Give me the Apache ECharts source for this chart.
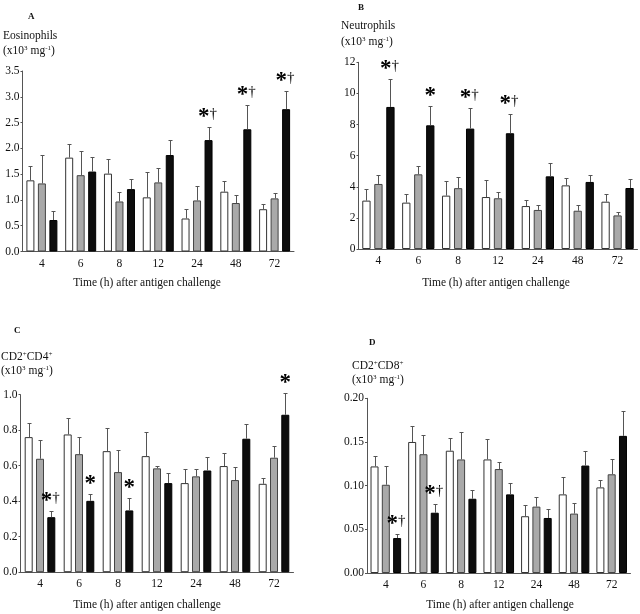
<!DOCTYPE html>
<html><head><meta charset="utf-8">
<script src="https://cdn.jsdelivr.net/npm/echarts@6/dist/echarts.min.js"></script>
<style>html,body{margin:0;padding:0;background:#fff}#c{width:640px;height:614px}</style>
</head><body><div id="c"></div>
<script>
const categories = ['4', '6', '8', '12', '24', '48', '72'];

// Panel A - Eosinophils
const eosOpen = [1.38, 1.82, 1.51, 1.05, 0.64, 1.16, 0.82];
const eosOpenUpper = [1.66, 2.08, 1.80, 1.54, 0.83, 1.36, 0.92];
const eosGrey = [1.32, 1.48, 0.97, 1.34, 0.99, 0.94, 1.03];
const eosGreyUpper = [1.88, 1.94, 1.16, 1.61, 1.27, 1.10, 1.14];
const eosBlack = [0.61, 1.55, 1.21, 1.87, 2.16, 2.37, 2.76];
const eosBlackUpper = [0.79, 1.83, 1.41, 2.16, 2.42, 2.85, 3.12];
const eosMarks = ['', '', '', '', '*†', '*†', '*†'];

// Panel B - Neutrophils
const neuOpen = [3.11, 2.98, 3.43, 3.34, 2.76, 4.09, 3.04];
const neuOpenUpper = [3.86, 3.54, 4.37, 4.41, 3.13, 4.59, 3.54];
const neuGrey = [4.18, 4.80, 3.91, 3.26, 2.51, 2.46, 2.16];
const neuGreyUpper = [4.78, 5.34, 4.61, 3.69, 2.85, 2.83, 2.36];
const neuBlack = [9.13, 7.95, 7.74, 7.44, 4.67, 4.31, 3.92];
const neuBlackUpper = [10.91, 9.21, 9.07, 8.68, 5.55, 4.78, 4.48];
const neuMarks = ['*†', '*', '*†', '*†', '', '', ''];

// Panel C - CD2+CD4+
const cd4Open = [0.761, 0.776, 0.682, 0.654, 0.502, 0.598, 0.498];
const cd4OpenUpper = [0.838, 0.870, 0.810, 0.788, 0.583, 0.669, 0.528];
const cd4Grey = [0.639, 0.665, 0.564, 0.585, 0.540, 0.519, 0.645];
const cd4GreyUpper = [0.744, 0.759, 0.690, 0.600, 0.583, 0.594, 0.712];
const cd4Black = [0.310, 0.402, 0.348, 0.502, 0.573, 0.752, 0.887];
const cd4BlackUpper = [0.344, 0.440, 0.419, 0.560, 0.650, 0.835, 1.008];
const cd4Marks = ['*†', '*', '*', '', '', '', '*'];

// Panel D - CD2+CD8+
const cd8Open = [0.122, 0.150, 0.140, 0.130, 0.065, 0.090, 0.098];
const cd8OpenUpper = [0.134, 0.168, 0.154, 0.153, 0.078, 0.110, 0.106];
const cd8Grey = [0.101, 0.136, 0.130, 0.119, 0.076, 0.068, 0.113];
const cd8GreyUpper = [0.122, 0.158, 0.161, 0.127, 0.087, 0.080, 0.131];
const cd8Black = [0.040, 0.069, 0.085, 0.090, 0.063, 0.123, 0.157];
const cd8BlackUpper = [0.045, 0.079, 0.095, 0.103, 0.073, 0.140, 0.185];
const cd8Marks = ['*†', '*†', '', '', '', '', ''];

const xTitle = 'Time (h) after antigen challenge';

const panels = [
  { letter: 'A', name: 'Eosinophils', max: 3.5, interval: 0.5, dec: 1,
    open: eosOpen, openUp: eosOpenUpper, grey: eosGrey, greyUp: eosGreyUpper, black: eosBlack, blackUp: eosBlackUpper, marks: eosMarks,
    grid: { left: 22.5, top: 71, width: 271.5, height: 180.5 }, bw: 8, gap: 3.5,
    letterPos: [32, 17], namePos: [3, 37], unitPos: [3, 52], titlePos: [147, 283] },
  { letter: 'B', name: 'Neutrophils', max: 12, interval: 2, dec: 0,
    open: neuOpen, openUp: neuOpenUpper, grey: neuGrey, greyUp: neuGreyUpper, black: neuBlack, blackUp: neuBlackUpper, marks: neuMarks,
    grid: { left: 358.5, top: 62.3, width: 279, height: 186.7 }, bw: 8.3, gap: 3.7,
    letterPos: [362, 8], namePos: [341, 27], unitPos: [341, 43], titlePos: [496, 283] },
  { letter: 'C', name: 'CD2{sup|+}CD4{sup|+}', max: 1.0, interval: 0.2, dec: 1,
    open: cd4Open, openUp: cd4OpenUpper, grey: cd4Grey, greyUp: cd4GreyUpper, black: cd4Black, blackUp: cd4BlackUpper, marks: cd4Marks,
    grid: { left: 20.5, top: 394.7, width: 273, height: 177.5 }, bw: 8, gap: 3.3,
    letterPos: [18, 331], namePos: [1, 358], unitPos: [1, 372], titlePos: [147, 605] },
  { letter: 'D', name: 'CD2{sup|+}CD8{sup|+}', max: 0.20, interval: 0.05, dec: 2,
    open: cd8Open, openUp: cd8OpenUpper, grey: cd8Grey, greyUp: cd8GreyUpper, black: cd8Black, blackUp: cd8BlackUpper, marks: cd8Marks,
    grid: { left: 367, top: 398.3, width: 263.5, height: 174.7 }, bw: 8, gap: 3.3,
    letterPos: [373, 343], namePos: [352, 367], unitPos: [352, 381], titlePos: [500, 605] }
];

const FONT = 'Liberation Serif, Times New Roman, serif';
const AXIS_COLOR = '#555';
const grids = [], xAxes = [], yAxes = [], series = [], graphics = [];
const supRich = { sup: { fontSize: 7, fontFamily: FONT, color: '#111', verticalAlign: 'top', padding: [0, 0, 4, 0] } };

panels.forEach((p, k) => {
  grids.push(Object.assign({ containLabel: false }, p.grid));
  xAxes.push({
    type: 'category', gridIndex: k, data: categories,
    axisLine: { lineStyle: { color: AXIS_COLOR, width: 1 } },
    axisTick: { show: false },
    axisLabel: { color: '#111', fontFamily: FONT, fontSize: 11.5, margin: 6 }
  });
  yAxes.push({
    type: 'value', gridIndex: k, min: 0, max: p.max, interval: p.interval,
    splitLine: { show: false },
    axisLine: { show: true, lineStyle: { color: AXIS_COLOR, width: 1 } },
    axisTick: { show: true, length: 2, lineStyle: { color: AXIS_COLOR } },
    axisLabel: { color: '#111', fontFamily: FONT, fontSize: 11.5, margin: 3,
      formatter: v => v.toFixed(p.dec) }
  });
  const barGap = (p.gap / p.bw * 100) + '%';
  const styles = [
    { color: '#ffffff', borderColor: '#333', borderWidth: 1 },
    { color: '#a9a9a9', borderColor: '#444', borderWidth: 1 },
    { color: '#0d0d0d', borderColor: '#000', borderWidth: 1 }
  ];
  const vals = [p.open, p.grey, p.black];
  const ups = [p.openUp, p.greyUp, p.blackUp];
  vals.forEach((arr, g) => {
    series.push({
      type: 'bar', xAxisIndex: k, yAxisIndex: k, data: arr,
      barWidth: p.bw, barGap: barGap, itemStyle: styles[g], silent: true, z: 2
    });
  });
  const errData = [];
  vals.forEach((arr, g) => arr.forEach((v, i) => errData.push([i, v, ups[g][i], g])));
  const step = p.bw + p.gap;
  series.push({
    type: 'custom', xAxisIndex: k, yAxisIndex: k, data: errData, z: 5, silent: true,
    renderItem: (params, api) => {
      const i = api.value(0), mean = api.value(1), up = api.value(2), g = api.value(3);
      const b = api.coord([i, mean]);
      const t = api.coord([i, up]);
      const x = Math.round(b[0] + (g - 1) * step) + 0.5;
      const ty = Math.round(t[1]) + 0.5;
      const children = [
        { type: 'line', shape: { x1: x, y1: b[1], x2: x, y2: ty }, style: { stroke: '#555', lineWidth: 1 } },
        { type: 'line', shape: { x1: x - 2, y1: ty, x2: x + 2, y2: ty }, style: { stroke: '#555', lineWidth: 1 } }
      ];
      if (g === 2 && p.marks[i]) {
        const m = p.marks[i];
        const txt = m === '*†' ? '{a|*}{d|†}' : '{a|*}';
        children.push({
          type: 'text', x: b[0] + (g - 1) * step - (m === '*†' ? 1 : 0), y: ty + 1,
          style: {
            text: txt, align: 'center', verticalAlign: 'bottom',
            rich: {
              a: { fontSize: 23, fontWeight: 'bold', fontFamily: FONT, color: '#111', lineHeight: 20, verticalAlign: 'bottom' },
              d: { fontSize: 15, fontFamily: FONT, color: '#111', lineHeight: 22, verticalAlign: 'top' }
            }
          }
        });
      }
      return { type: 'group', children };
    }
  });
  graphics.push({ type: 'text', left: p.letterPos[0] - 4, top: p.letterPos[1] - 5,
    style: { text: p.letter, fontFamily: FONT, fontSize: 9, fontWeight: 'bold', fill: '#111' } });
  graphics.push({ type: 'text', left: p.namePos[0], top: p.namePos[1] - 7,
    style: { text: p.name, fontFamily: FONT, fontSize: 11.5, fill: '#111', rich: supRich } });
  graphics.push({ type: 'text', left: p.unitPos[0], top: p.unitPos[1] - 7,
    style: { text: '(x10{sup|3} mg{sup|-1})', fontFamily: FONT, fontSize: 11.5, fill: '#111', rich: supRich } });
  graphics.push({ type: 'text', x: p.titlePos[0], y: p.titlePos[1],
    style: { text: xTitle, fontFamily: FONT, fontSize: 11.5, fill: '#111', align: 'center', verticalAlign: 'middle' } });
});

const chart = echarts.init(document.getElementById('c'), null, { renderer: 'canvas' });
chart.setOption({
  animation: false,
  backgroundColor: '#fff',
  textStyle: { fontFamily: FONT },
  grid: grids, xAxis: xAxes, yAxis: yAxes, series: series, graphic: graphics
});
</script>
</body></html>
